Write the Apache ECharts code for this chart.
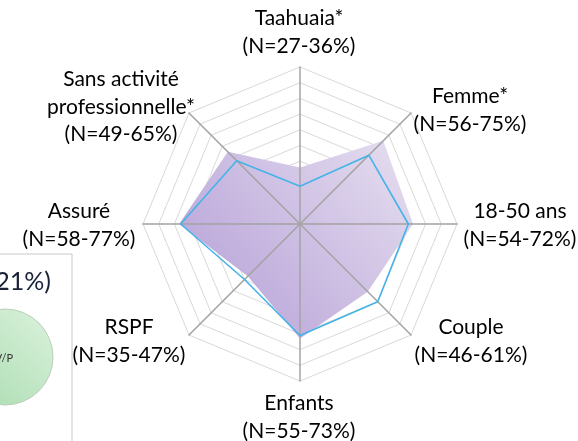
<!DOCTYPE html>
<html>
<head>
<meta charset="utf-8">
<script src="https://cdn.jsdelivr.net/npm/echarts@6/dist/echarts.min.js"></script>
<style>
html,body{margin:0;padding:0;background:#fff;}
#chart{width:578px;height:441px;}
</style>
</head>
<body>
<div id="chart"></div>
<script>
// Indicators in counterclockwise order starting from the top
const indicatorNames = ['Taahuaia*', 'Sans activité professionnelle*', 'Assuré', 'RSPF', 'Enfants', 'Couple', '18-50 ans', 'Femme*'];
const indicatorLabels = [
  'Taahuaia*\n(N=27-36%)',
  'Sans activité\nprofessionnelle*\n(N=49-65%)',
  'Assuré\n(N=58-77%)',
  'RSPF\n(N=35-47%)',
  'Enfants\n(N=55-73%)',
  'Couple\n(N=46-61%)',
  '18-50 ans\n(N=54-72%)',
  'Femme*\n(N=56-75%)'
];
const axisMax = 100;
const purpleValues = [36, 65, 77, 47, 73, 61, 72, 75];
const blueValues = [24, 57, 76, 50, 71, 70, 69, 62];
const sideBoxText = '(21%)';
const sideCircleText = 'V/P';

// layout (pixels) for the axis labels, same order as indicators
const labelLayout = [
  [299, 32], [121, 107], [79, 225], [129, 341],
  [299, 417], [471, 341], [520, 225], [470, 110]
];

const FONT = 'Lato, "Open Sans", sans-serif';
const chart = echarts.init(document.getElementById('chart'), null, {renderer: 'canvas'});

const indicators = indicatorNames.map(n => ({name: n, max: axisMax, min: 0}));
const radarBase = {
  center: [300, 224], radius: 157, startAngle: 90, shape: 'polygon',
  splitNumber: 10, indicator: indicators, axisName: {show: false}
};

const graphics = [];
indicatorLabels.forEach((t, i) => {
  graphics.push({
    type: 'text', x: labelLayout[i][0], y: labelLayout[i][1], z: 10,
    style: {text: t, align: 'center', verticalAlign: 'middle', fill: '#000000',
      font: '21px ' + FONT, lineHeight: 27.5}
  });
});
// partial neighbouring panel on the left edge
graphics.push({type: 'rect', shape: {x: -5, y: 254, width: 77, height: 200},
  style: {fill: '#fff', stroke: '#c8c8c8', lineWidth: 1}, z: 1});
graphics.push({type: 'text', x: 51, y: 282, z: 2,
  style: {text: sideBoxText, align: 'right', verticalAlign: 'middle', fill: '#1a2238', font: '25px ' + FONT}});
graphics.push({type: 'circle', shape: {cx: 5, cy: 357, r: 48}, z: 2,
  style: {fill: new echarts.graphic.LinearGradient(1, 0, 0, 1, [
    {offset: 0, color: '#dcf2dd'}, {offset: 1, color: '#a6dbad'}]),
    stroke: '#b9cfba', lineWidth: 1}});
graphics.push({type: 'text', x: 4, y: 358, z: 3,
  style: {text: sideCircleText, align: 'center', verticalAlign: 'middle', fill: '#333', font: '11px ' + FONT}});

const option = {
  backgroundColor: '#ffffff',
  animation: false,
  radar: [
    Object.assign({}, radarBase, {
      z: 0,
      axisLine: {show: false},
      splitLine: {lineStyle: {color: '#d9d9d9', width: 1}},
      splitArea: {show: false}
    }),
    Object.assign({}, radarBase, {
      z: 3,
      axisLine: {lineStyle: {color: '#a3a3a3', width: 1.5}},
      splitLine: {show: false},
      splitArea: {show: false},
      axisTick: {show: false},
      axisLabel: {show: false}
    })
  ],
  series: [
    {
      type: 'radar', radarIndex: 0, z: 2, symbol: 'none',
      lineStyle: {width: 0, opacity: 0},
      areaStyle: {opacity: 1, color: new echarts.graphic.LinearGradient(1, 0, 0, 1, [
        {offset: 0, color: '#e6dff0'}, {offset: 1, color: '#b29bd5'}])},
      data: [{value: purpleValues, name: 'A'}]
    },
    {
      type: 'radar', radarIndex: 0, z: 4, symbol: 'none',
      lineStyle: {width: 1.6, color: '#45b3e8'},
      itemStyle: {color: '#45b3e8'},
      data: [{value: blueValues, name: 'B'}]
    }
  ],
  graphic: graphics
};
chart.setOption(option);
</script>
</body>
</html>
